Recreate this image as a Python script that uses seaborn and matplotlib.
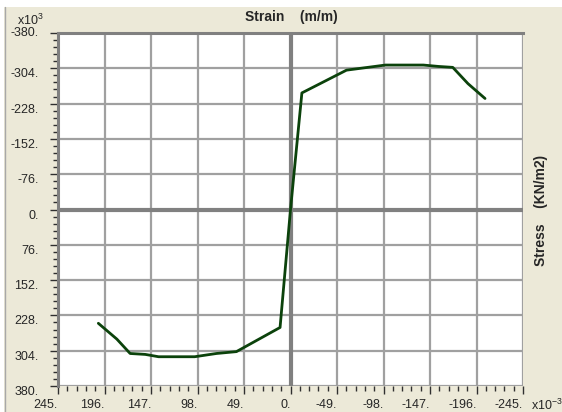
"""
Stress-strain curve (hysteresis style plot), old Windows chart look.
"""
import matplotlib
matplotlib.use("Agg")
import matplotlib.pyplot as plt
from matplotlib.patches import Rectangle
from matplotlib.lines import Line2D
from matplotlib.ticker import FixedLocator, MultipleLocator
from matplotlib.transforms import ScaledTranslation
import pandas as pd
import seaborn as sns

# strain in x10^-3 m/m, stress in x10^3 KN/m2
strain = [202.5, 183, 169, 153, 139, 101, 78, 57, 11, 0,
          -12, -59, -100, -140, -156, -171, -187, -205]
stress = [245, 279, 310, 312, 317, 317, 310, 306, 254, 0,
          -251, -300, -311, -311, -308, -306, -271, -239]

x_ticks = [245, 196, 147, 98, 49, 0, -49, -98, -147, -196, -245]
y_ticks = [-380, -304, -228, -152, -76, 0, 76, 152, 228, 304, 380]
x_labels = [f"{v}." for v in x_ticks]
y_labels = [f"{v}." for v in y_ticks]

BG = "#ECE9D8"
GRID = "#A0A0A0"
DARK = "#808080"
CURVE = "#0b420b"

W, H = 562, 412

sns.set_style("white")
plt.rcParams["font.family"] = ["Liberation Sans", "DejaVu Sans"]
plt.rcParams["mathtext.default"] = "regular"

df = pd.DataFrame({"strain": strain, "stress": stress})

fig = plt.figure(figsize=(W / 100, H / 100), dpi=100, facecolor=BG)
ax = fig.add_axes([58 / W, 1 - 386 / H, 465 / W, 353 / H])
ax.set_facecolor("white")

# window chrome bits
fig.add_artist(Rectangle((0, 1 - 7 / H), 1, 7 / H, transform=fig.transFigure,
                         facecolor="white", edgecolor="none"))
fig.add_artist(Rectangle((0, 0), 3.5 / W, 1, transform=fig.transFigure,
                         facecolor="white", edgecolor="none"))
fig.add_artist(Line2D([4.5 / W, 4.5 / W], [0, 1 - 7 / H], transform=fig.transFigure,
                      color="#A8A8A8", linewidth=1))

ax.set_xlim(245, -245)
ax.set_ylim(380, -380)

ax.xaxis.set_major_locator(FixedLocator(x_ticks))
ax.yaxis.set_major_locator(FixedLocator(y_ticks))
ax.xaxis.set_minor_locator(MultipleLocator(9.8))
ax.yaxis.set_minor_locator(MultipleLocator(15.2))
ax.set_xticklabels(x_labels, ha="right")
ax.set_yticklabels(y_labels, va="top")
ylbls = ax.get_yticklabels()
ylbls[0].set_va("center")
shift = ScaledTranslation(0, -2 / 72, fig.dpi_scale_trans)
for lbl in ylbls[1:]:
    lbl.set_transform(lbl.get_transform() + shift)

ax.grid(True, which="major", color=GRID, linewidth=1.6)
ax.axhline(0, color=DARK, linewidth=3, zorder=1.5)
ax.axvline(0, color=DARK, linewidth=3, zorder=1.5)

sns.lineplot(data=df, x="strain", y="stress", sort=False, estimator=None,
             color=CURVE, linewidth=2, ax=ax, zorder=3)
ax.set_xlabel("")
ax.set_ylabel("")

for side in ["bottom", "right"]:
    ax.spines[side].set_visible(False)
for side in ["top", "left"]:
    ax.spines[side].set_color(DARK)
    ax.spines[side].set_linewidth(2.2)

ax.tick_params(which="major", direction="out", length=6, width=1, color="#303030",
               labelsize=9, pad=3, bottom=True, left=True)
ax.tick_params(which="minor", direction="out", length=3.5, width=1, color="#303030",
               bottom=True, left=True)
ax.tick_params(axis="y", which="major", pad=8)

fig.text(291 / W, 1 - 17 / H, "Strain    (m/m)", ha="center", va="center",
         fontsize=10, fontweight="bold")
fig.text(541 / W, 1 - 210 / H, "Stress    (KN/m2)", ha="center", va="center",
         rotation=90, fontsize=10, fontweight="bold")
fig.text(17 / W, 1 - 25 / H, "x10$^3$", ha="left", va="baseline", fontsize=9)
fig.text(531 / W, 1 - 410 / H, "x10$^{-3}$", ha="left", va="baseline", fontsize=9)

fig.savefig("out.png", dpi=100, facecolor=BG)
